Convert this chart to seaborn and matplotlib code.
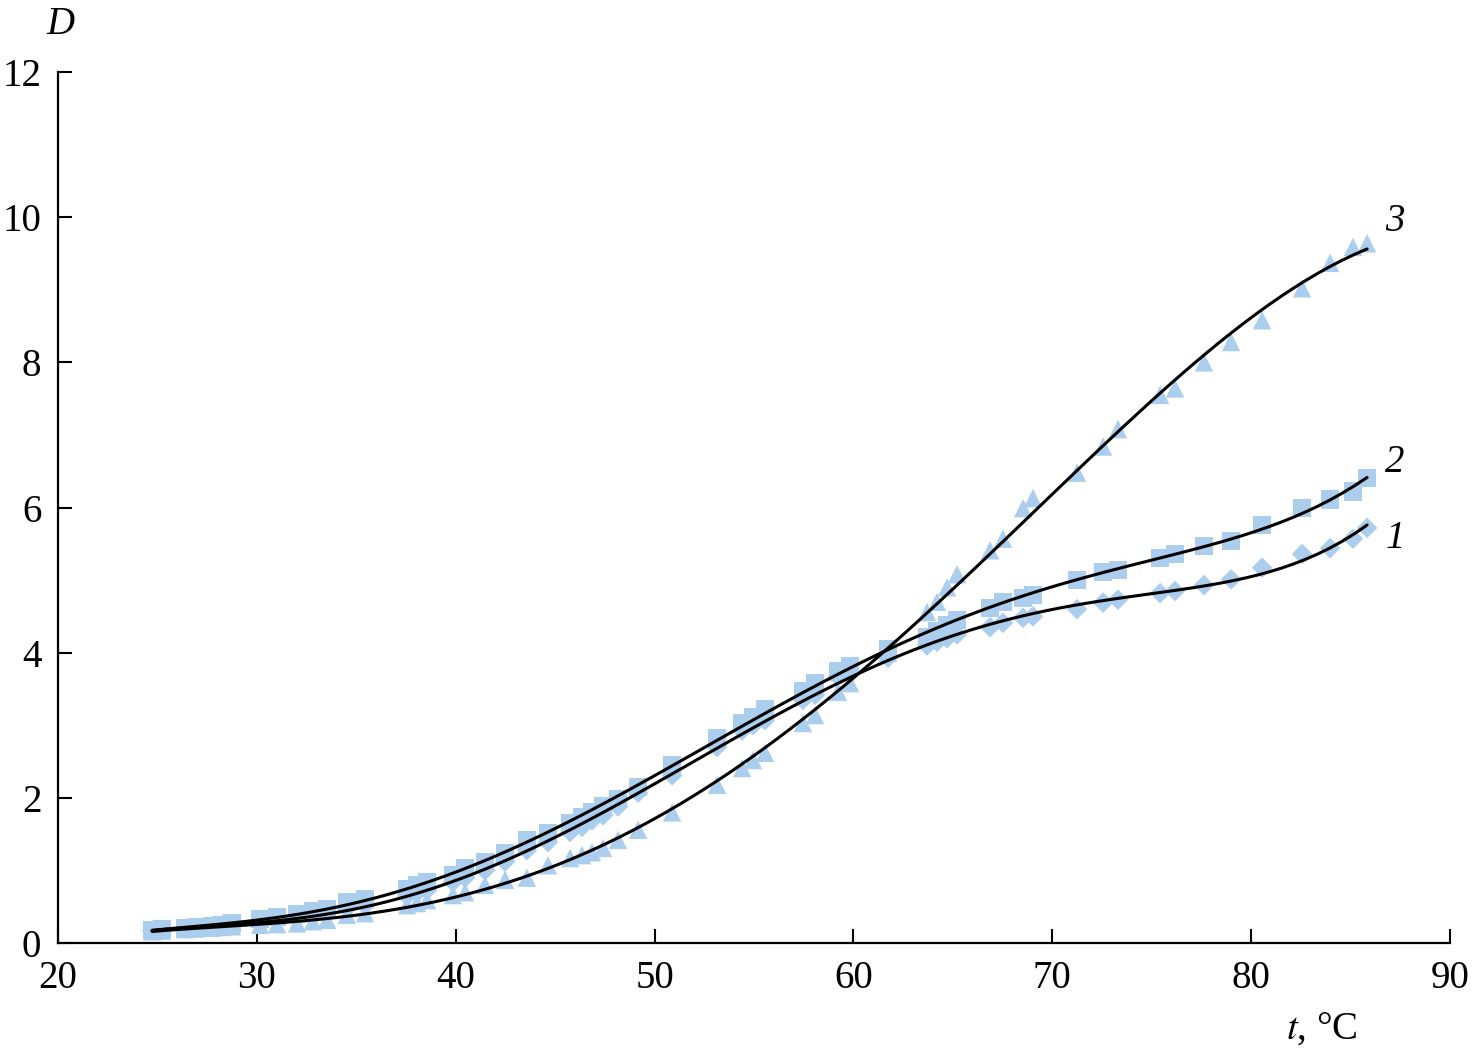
import numpy as np
import pandas as pd
import matplotlib
matplotlib.use("Agg")
import matplotlib.pyplot as plt
import seaborn as sns

# temperatures, °C (shared by all three series)
t_values = [24.73, 25.23, 26.39, 26.94, 27.74, 28.25, 28.75, 30.16, 31.01, 32.02,
            32.82, 33.53, 34.53, 35.44, 37.55, 38.05, 38.56, 39.86, 40.47, 41.47,
            42.48, 43.58, 44.64, 45.75, 46.35, 46.85, 47.41, 48.16, 49.17, 50.88,
            53.14, 54.40, 54.95, 55.55, 57.46, 58.07, 59.22, 59.83, 61.74, 63.70,
            64.20, 64.71, 65.21, 66.87, 67.52, 68.53, 69.03, 71.24, 72.55, 73.30,
            75.42, 76.17, 77.63, 78.99, 80.55, 82.56, 83.97, 85.12, 85.83]

# series 1 (diamonds)
d_series1 = [0.17, 0.18, 0.20, 0.21, 0.23, 0.24, 0.25, 0.29, 0.32, 0.35,
             0.38, 0.41, 0.48, 0.52, 0.65, 0.69, 0.73, 0.84, 0.90, 1.00,
             1.12, 1.28, 1.39, 1.53, 1.60, 1.69, 1.76, 1.88, 2.07, 2.31,
             2.70, 2.93, 3.00, 3.07, 3.35, 3.42, 3.67, 3.72, 3.93, 4.10,
             4.15, 4.20, 4.25, 4.35, 4.41, 4.48, 4.50, 4.60, 4.69, 4.73,
             4.82, 4.85, 4.93, 5.01, 5.17, 5.36, 5.44, 5.57, 5.72]

# series 2 (squares)
d_series2 = [0.18, 0.19, 0.21, 0.22, 0.24, 0.25, 0.27, 0.33, 0.36, 0.40,
             0.44, 0.47, 0.57, 0.61, 0.75, 0.80, 0.84, 0.94, 1.03, 1.12,
             1.24, 1.42, 1.51, 1.65, 1.74, 1.81, 1.88, 1.98, 2.15, 2.45,
             2.82, 3.03, 3.11, 3.22, 3.47, 3.58, 3.74, 3.82, 4.05, 4.22,
             4.30, 4.38, 4.45, 4.62, 4.70, 4.75, 4.80, 5.00, 5.11, 5.14,
             5.30, 5.36, 5.47, 5.54, 5.76, 5.99, 6.11, 6.22, 6.41]

# series 3 (triangles)
d_series3 = [0.16, 0.17, 0.19, 0.20, 0.21, 0.22, 0.23, 0.25, 0.26, 0.27,
             0.30, 0.32, 0.39, 0.41, 0.52, 0.55, 0.59, 0.66, 0.70, 0.80,
             0.87, 0.90, 1.07, 1.17, 1.21, 1.25, 1.31, 1.42, 1.56, 1.80,
             2.18, 2.41, 2.52, 2.62, 3.03, 3.14, 3.46, 3.58, 4.00, 4.56,
             4.70, 4.90, 5.08, 5.41, 5.57, 5.99, 6.13, 6.48, 6.84, 7.08,
             7.55, 7.64, 8.00, 8.28, 8.58, 9.02, 9.37, 9.59, 9.64]

series_names = ["1", "2", "3"]
x_ticks = [20, 30, 40, 50, 60, 70, 80, 90]
y_ticks = [0, 2, 4, 6, 8, 10, 12]

sns.set_theme(style="ticks")
plt.rcParams["font.family"] = ["Liberation Serif", "DejaVu Serif"]
plt.rcParams["mathtext.fontset"] = "stix"
for key in ["text.color", "axes.labelcolor", "xtick.color", "ytick.color", "axes.edgecolor"]:
    plt.rcParams[key] = "black"

df = pd.DataFrame({
    "t": t_values * 3,
    "D": d_series1 + d_series2 + d_series3,
    "series": sum([[n] * len(t_values) for n in series_names], []),
})

fig = plt.figure(figsize=(14.73, 10.56), dpi=100)
ax = fig.add_axes([0.0394, 0.107, 0.945, 0.8248])

marker_color = "#abcdee"
sns.scatterplot(data=df, x="t", y="D", style="series", size="series",
                markers={"1": "D", "2": "s", "3": "^"},
                sizes={"1": 110, "2": 170, "3": 175},
                color=marker_color, linewidth=0, ax=ax, legend=False, zorder=2)
for name, ys, order in zip(series_names, [d_series1, d_series2, d_series3], [5, 5, 4]):
    sns.regplot(x=np.array(t_values), y=np.array(ys), order=order, ci=None, scatter=False,
                color="black", line_kws={"linewidth": 2.2, "zorder": 3}, ax=ax)

ax.set_xlim(20, 90)
ax.set_ylim(0, 12)
ax.set_xticks(x_ticks)
ax.set_yticks(y_ticks)
ax.set_xlabel("")
ax.set_ylabel("")
ax.tick_params(direction="in", length=10, width=1.5, labelsize=28, pad=12, colors="black")
for side in ["top", "right"]:
    ax.spines[side].set_visible(False)
for side in ["left", "bottom"]:
    ax.spines[side].set_linewidth(1.6)
    ax.spines[side].set_color("black")

fig.text(0.041, 0.977, "D", fontsize=28, style="italic", ha="center", va="center", color="black")
fig.text(0.897, 0.025, "$\\it{t}$, °C", fontsize=28, ha="center", va="center", color="black")
for name, xx, yy in [("3", 0.947, 0.79), ("2", 0.947, 0.562), ("1", 0.947, 0.49)]:
    fig.text(xx, yy, name, fontsize=28, style="italic", ha="center", va="center", color="black")

fig.savefig("out.png", dpi=100)
